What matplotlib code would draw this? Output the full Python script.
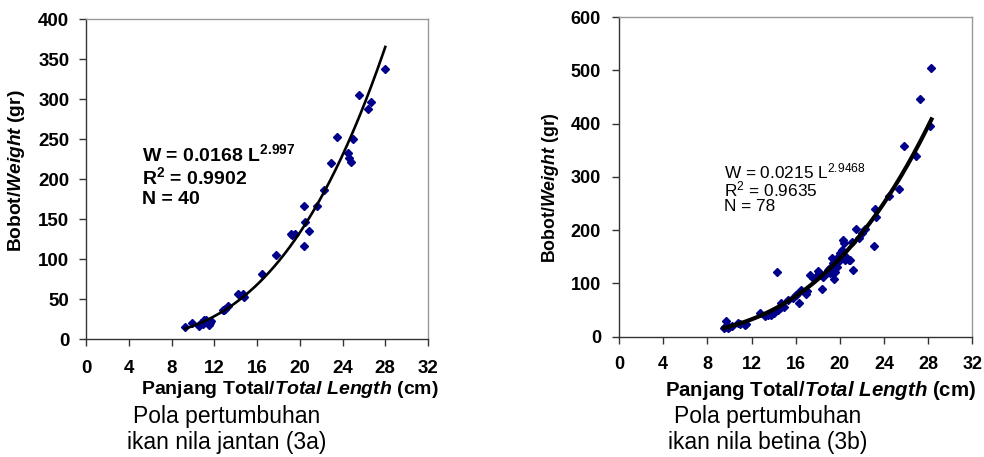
import numpy as np
import matplotlib
matplotlib.use("Agg")
import matplotlib.pyplot as plt

plt.rcParams['font.family'] = ['Liberation Sans', 'DejaVu Sans']
plt.rcParams['mathtext.fontset'] = 'custom'
plt.rcParams['mathtext.rm'] = 'Liberation Sans'
plt.rcParams['mathtext.bf'] = 'Liberation Sans:bold'
plt.rcParams['mathtext.it'] = 'Liberation Sans:italic'
plt.rcParams['mathtext.bfit'] = 'Liberation Sans:bold:italic'

# ---- data: male (3a)
male_len = [9.26, 9.89, 10.6, 10.8, 10.9, 11.07, 11.2, 11.3, 11.5, 11.6, 11.67,
            12.85, 12.95, 13.3, 14.25, 14.66, 14.8, 16.5, 17.8, 19.15, 19.3, 19.56,
            20.4, 20.4, 20.5, 20.9, 21.6, 22.3, 22.9, 23.5, 24.55, 24.6, 24.77,
            25.0, 25.5, 26.35, 26.67, 28.0, 11.0, 13.0]
male_wt = [15, 20, 16.6, 20.7, 19, 24, 24, 22, 17.9, 20, 23,
           36.6, 37, 42, 57, 56.6, 52.4, 81, 105.6, 131.5, 130, 131.5,
           116, 166.8, 146.5, 134.8, 166.4, 186, 220, 253, 233, 226, 222,
           249.7, 305, 287, 296, 337, 22, 38]

# ---- data: female (3b)
fem_len = [9.51, 9.69, 9.9, 10.0, 10.8, 11.4, 11.5, 12.8, 13.2, 13.8, 14.0, 14.3, 14.4,
           14.6, 14.7, 15.8, 16.1, 16.3, 16.5, 16.9, 17.0, 17.3, 17.6, 18.0, 18.1,
           18.4, 18.5, 18.8, 19.0, 19.1, 19.3, 19.4, 19.5, 19.6, 19.7, 19.7, 20.0,
           20.2, 20.3, 20.4, 20.5, 20.8, 20.9, 21.2, 21.1, 21.5, 22.3, 23.1, 23.2,
           23.3, 25.4, 25.8, 26.9, 27.3, 28.2, 28.3,
           9.6, 10.2, 11.0, 13.5, 15.3, 16.0, 17.8, 18.3, 18.7, 18.9, 19.2, 19.25,
           19.45, 19.8, 19.9, 20.1, 20.6, 21.7, 22.0, 24.5, 9.8, 14.9]
fem_wt = [15.7, 30, 15.7, 18, 25, 22, 24, 44, 39, 41, 44, 122, 50,
          53, 63, 72, 81, 63, 88, 81, 86, 116, 110, 124, 119,
          90, 113, 120, 128, 119, 147, 138, 108, 122, 131, 147, 157,
          163, 182, 175, 144, 144, 144, 126, 178, 202, 202, 171, 239,
          224, 277, 357, 340, 446, 396, 505,
          18, 20, 24, 40, 68, 78, 112, 115, 118, 125, 130, 122,
          132, 140, 145, 150, 150, 185, 195, 265, 20, 55]

xticks = [0, 4, 8, 12, 16, 20, 24, 28, 32]

fig = plt.figure(figsize=(9.84, 4.57), dpi=100)
ax1 = fig.add_axes([0.0874, 0.2575, 0.3476, 0.7009])
ax2 = fig.add_axes([0.6291, 0.2632, 0.3590, 0.6996])

marker_color = '#00008B'

def style(ax, ymax, ystep, fs, xpad, ypad):
    ax.set_xlim(0, 32)
    ax.set_ylim(0, ymax)
    ax.set_xticks(xticks)
    ax.set_yticks(np.arange(0, ymax + 1, ystep))
    for s in ['left', 'bottom']:
        ax.spines[s].set_color('#333333')
        ax.spines[s].set_linewidth(1.0)
    for s in ['top', 'right']:
        ax.spines[s].set_color('#999999')
        ax.spines[s].set_linewidth(1.0)
    ax.tick_params(axis='both', direction='out', length=5, width=1, color='#333333',
                   labelsize=fs)
    ax.tick_params(axis='x', pad=xpad)
    ax.tick_params(axis='y', pad=ypad)
    for lab in ax.get_xticklabels() + ax.get_yticklabels():
        lab.set_fontweight('bold')

# left panel
ax1.plot(male_len, male_wt, linestyle='none', marker='D', ms=4.5, color=marker_color)
xl = np.linspace(9.25, 28.0, 200)
ax1.plot(xl, 0.0168 * xl ** 2.997, color='black', lw=1.9)
style(ax1, 400, 50, 13.5, 10, 7)
ax1.set_ylabel(r"Bobot/$\mathbfit{Weight}$ (gr)", fontsize=13.8, fontweight='bold')
ax1.yaxis.set_label_coords(-0.172, 0.525)
ax1.text(5.2, 231, r"W = 0.0168 L$^{\mathbf{2.997}}$", fontsize=14, fontweight='bold', va='center')
ax1.text(5.2, 202.5, r"R$^{\mathbf{2}}$ = 0.9902", fontsize=14, fontweight='bold', va='center')
ax1.text(5.2, 175, "N = 40", fontsize=14, fontweight='bold', va='center')

# right panel
ax2.plot(fem_len, fem_wt, linestyle='none', marker='D', ms=4.5, color=marker_color)
xr = np.linspace(9.5, 28.3, 200)
ax2.plot(xr, 0.0215 * xr ** 2.9468, color='black', lw=3)
style(ax2, 600, 100, 13, 9, 8)
ax2.set_ylabel(r"Bobot/$\mathbfit{Weight}$ (gr)", fontsize=12.8, fontweight='bold')
ax2.yaxis.set_label_coords(-0.163, 0.466)
ax2.text(9.5, 310, r"W = 0.0215 L$^{2.9468}$", fontsize=12.4, va='center')
ax2.text(9.5, 276, r"R$^{2}$ = 0.9635", fontsize=12.4, va='center')
ax2.text(9.5, 244, "N = 78", fontsize=12.4, va='center')

# x labels and captions as figure text
fig.text(290 / 984, 1 - 389 / 457, r"Panjang Total/$\mathbfit{Total\ Length}$ (cm)",
         fontsize=14, fontweight='bold', ha='center', va='center')
fig.text(821 / 984, 1 - 390 / 457, r"Panjang Total/$\mathbfit{Total\ Length}$ (cm)",
         fontsize=14.7, fontweight='bold', ha='center', va='center')
fig.text(227 / 984, 1 - 416 / 457, "Pola pertumbuhan", fontsize=16.5, ha='center', va='center')
fig.text(227 / 984, 1 - 443 / 457, "ikan nila jantan (3a)", fontsize=16.5, ha='center', va='center')
fig.text(768 / 984, 1 - 416 / 457, "Pola pertumbuhan", fontsize=16.5, ha='center', va='center')
fig.text(768 / 984, 1 - 443 / 457, "ikan nila betina (3b)", fontsize=16.5, ha='center', va='center')

fig.savefig("out.png", dpi=100)
